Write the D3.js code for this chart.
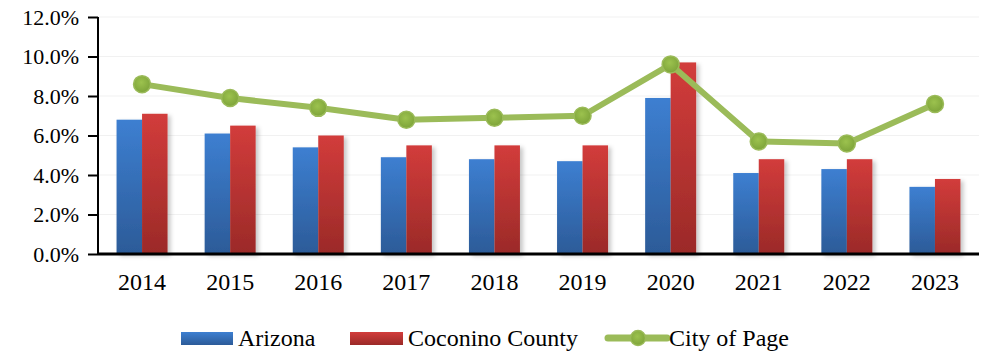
<!DOCTYPE html>
<html>
<head>
<meta charset="utf-8">
<script src="https://cdn.jsdelivr.net/npm/d3@7"></script>
<style>
  html, body { margin: 0; padding: 0; background: #fff; }
  svg { display: block; }
</style>
</head>
<body>
<svg id="chart" width="984" height="356" font-family="'Liberation Serif', 'Times New Roman', serif"></svg>
<script>
// Unemployment rates by year
const years = ["2014", "2015", "2016", "2017", "2018", "2019", "2020", "2021", "2022", "2023"];
const arizona = [6.8, 6.1, 5.4, 4.9, 4.8, 4.7, 7.9, 4.1, 4.3, 3.4];
const coconino = [7.1, 6.5, 6.0, 5.5, 5.5, 5.5, 9.7, 4.8, 4.8, 3.8];
const cityOfPage = [8.6, 7.9, 7.4, 6.8, 6.9, 7.0, 9.6, 5.7, 5.6, 7.6];
const yTicks = [0, 2, 4, 6, 8, 10, 12];
const seriesNames = ["Arizona", "Coconino County", "City of Page"];

const FONT = "'Liberation Serif', 'Times New Roman', serif";
const svg = d3.select("#chart");
const plotLeft = 98, plotRight = 979, plotTop = 17, plotBottom = 254;

const x = d3.scaleBand().domain(years).range([plotLeft, plotRight]).padding(0);
const bw = x.bandwidth();
const barW = 25.5;
const x1 = d3.scaleBand().domain(["az", "cc"]).range([bw / 2 - barW, bw / 2 + barW]).padding(0);
const y = d3.scaleLinear().domain([0, 12]).range([plotBottom, plotTop]);

const defs = svg.append("defs");
function vgrad(id, c1, c2) {
  const g = defs.append("linearGradient").attr("id", id)
    .attr("x1", 0).attr("y1", 0).attr("x2", 0).attr("y2", 1);
  g.append("stop").attr("offset", "0%").attr("stop-color", c1);
  g.append("stop").attr("offset", "100%").attr("stop-color", c2);
}
vgrad("gBlue", "#3d7fd1", "#2c5b98");
vgrad("gRed", "#d23c3b", "#9b2a28");
const rg = defs.append("radialGradient").attr("id", "gGreen")
  .attr("cx", "45%").attr("cy", "40%").attr("r", "60%");
rg.append("stop").attr("offset", "0%").attr("stop-color", "#9cc24e");
rg.append("stop").attr("offset", "100%").attr("stop-color", "#7ea43a");

const shadow = defs.append("filter").attr("id", "shadow")
  .attr("x", "-20%").attr("y", "-10%").attr("width", "160%").attr("height", "130%");
shadow.append("feDropShadow").attr("dx", 3).attr("dy", 2).attr("stdDeviation", 2)
  .attr("flood-color", "#000").attr("flood-opacity", 0.22);

// faint horizontal gridlines
svg.append("g").selectAll("line").data(yTicks.slice(1)).join("line")
  .attr("x1", plotLeft).attr("x2", plotRight)
  .attr("y1", d => y(d)).attr("y2", d => y(d))
  .attr("stroke", "#f1f1f1").attr("stroke-width", 1);

// bars
const groups = svg.append("g").selectAll("g").data(years).join("g")
  .attr("transform", d => `translate(${x(d)},0)`);
groups.append("rect")
  .attr("x", x1("az")).attr("width", x1.bandwidth())
  .attr("y", (d, i) => y(arizona[i])).attr("height", (d, i) => y(0) - y(arizona[i]))
  .attr("fill", "url(#gBlue)").attr("filter", "url(#shadow)");
groups.append("rect")
  .attr("x", x1("cc")).attr("width", x1.bandwidth())
  .attr("y", (d, i) => y(coconino[i])).attr("height", (d, i) => y(0) - y(coconino[i]))
  .attr("fill", "url(#gRed)").attr("filter", "url(#shadow)");

// axes
const yAxis = svg.append("g").attr("transform", `translate(${plotLeft},0)`)
  .call(d3.axisLeft(y).tickValues(yTicks).tickFormat(d => d.toFixed(1) + "%").tickSize(10).tickPadding(9))
  .attr("font-family", FONT).attr("font-size", 22);
yAxis.select(".domain").attr("stroke", "#000").attr("stroke-width", 2).attr("d", `M0,${plotTop}V${plotBottom}`);
yAxis.selectAll(".tick line").attr("stroke", "#000").attr("stroke-width", 2);
yAxis.selectAll("text").attr("fill", "#000").attr("dy", "0.34em");

const xAxis = svg.append("g").attr("transform", `translate(0,${plotBottom})`)
  .call(d3.axisBottom(x).tickSize(0).tickPadding(36))
  .attr("font-family", FONT).attr("font-size", 24);
xAxis.select(".domain").attr("stroke", "#000").attr("stroke-width", 3).attr("d", `M${plotLeft},0H${plotRight}`);
xAxis.selectAll("text").attr("fill", "#000").attr("dy", "0");

// City of Page line
const cx = (d, i) => x(years[i]) + bw / 2;
const line = d3.line().x((d, i) => cx(d, i)).y(d => y(d));
svg.append("path").datum(cityOfPage)
  .attr("d", line).attr("fill", "none")
  .attr("stroke", "#9bbb59").attr("stroke-width", 6).attr("stroke-linejoin", "round");
svg.append("g").selectAll("circle").data(cityOfPage).join("circle")
  .attr("cx", cx).attr("cy", d => y(d)).attr("r", 8.5)
  .attr("fill", "url(#gGreen)").attr("stroke", "#9bbb59").attr("stroke-width", 1.5);

// legend
const lg = svg.append("g").attr("font-family", FONT).attr("font-size", 24);
const ly = 338;
lg.append("rect").attr("x", 181).attr("y", ly - 6).attr("width", 52).attr("height", 13).attr("fill", "url(#gBlue)");
lg.append("text").attr("x", 238).attr("y", 346).text(seriesNames[0]);
lg.append("rect").attr("x", 350).attr("y", ly - 6).attr("width", 53).attr("height", 13).attr("fill", "url(#gRed)");
lg.append("text").attr("x", 408).attr("y", 346).text(seriesNames[1]);
lg.append("line").attr("x1", 608).attr("x2", 667).attr("y1", ly).attr("y2", ly)
  .attr("stroke", "#9bbb59").attr("stroke-width", 7).attr("stroke-linecap", "round");
lg.append("circle").attr("cx", 638).attr("cy", ly).attr("r", 7.5)
  .attr("fill", "url(#gGreen)").attr("stroke", "#9bbb59").attr("stroke-width", 1.5);
lg.append("text").attr("x", 669).attr("y", 346).text(seriesNames[2]);
</script>
</body>
</html>
